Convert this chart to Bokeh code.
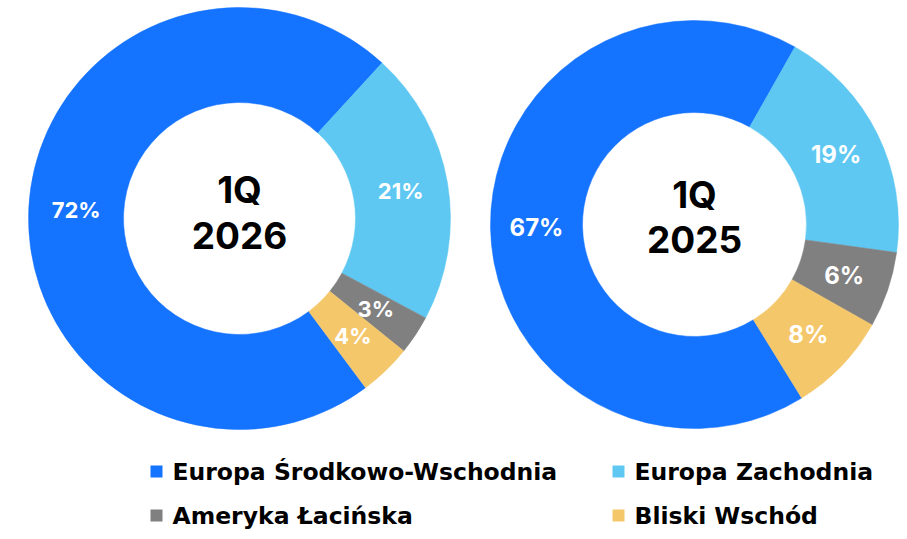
import math
from bokeh.plotting import figure
from bokeh.models import Range1d, ColumnDataSource
from bokeh.core.properties import value
from bokeh.embed import file_html
from bokeh.resources import INLINE

# ---- data ----
categories = ["Europa Środkowo-Wschodnia", "Europa Zachodnia", "Ameryka Łacińska", "Bliski Wschód"]
colors = ["#1473FF", "#5EC8F2", "#808080", "#F5C76B"]
share_2026 = [72, 21, 3, 4]
share_2025 = [67, 19, 6, 8]
titles = [("1Q", "2026"), ("1Q", "2025")]

# ---- layout (pixel coords from top-left) ----
W, H = 899, 531
FONT = "Inter"
LEG_FONT = "DejaVu Sans"

def X(x):
    return x

def Y(y):
    return H - y

p = figure(width=W, height=H, output_backend="svg", toolbar_location=None,
           x_range=Range1d(0, W), y_range=Range1d(0, H), min_border=0)
p.axis.visible = False
p.grid.visible = False
p.outline_line_color = None
p.background_fill_color = "white"
p.border_fill_color = "white"

donuts = [
    dict(vals=share_2026, cx=239, cy=218, r_out=211, r_in=116, start=306.7, lab=22, title=titles[0], ty=(189, 235)),
    dict(vals=share_2025, cx=694, cy=224, r_out=204, r_in=112, start=301.7, lab=24, title=titles[1], ty=(194, 239)),
]

for d in donuts:
    total = sum(d["vals"])
    starts, ends, lx, ly, labels = [], [], [], [], []
    a = math.radians(d["start"])
    rm = (d["r_out"] + d["r_in"]) / 2
    for v in d["vals"]:
        span = 2 * math.pi * v / total
        starts.append(a)
        ends.append(a - span)
        mid = a - span / 2
        lx.append(X(d["cx"]) + rm * math.cos(mid))
        ly.append(Y(d["cy"]) + rm * math.sin(mid))
        labels.append(f"{v}%")
        a -= span
    src = ColumnDataSource(dict(start=starts, end=ends, color=colors, lx=lx, ly=ly, label=labels))
    p.annular_wedge(x=X(d["cx"]), y=Y(d["cy"]), inner_radius=d["r_in"], outer_radius=d["r_out"],
                    start_angle="start", end_angle="end", direction="clock",
                    fill_color="color", line_color="color", line_width=0.5, source=src)
    p.text(x="lx", y="ly", text="label", source=src, text_color="white",
           text_font=value(FONT), text_font_style="bold", text_font_size=f"{d['lab']}px",
           text_align="center", text_baseline="middle")
    p.text(x=[X(d["cx"])] * 2, y=[Y(d["ty"][0]), Y(d["ty"][1])], text=list(d["title"]),
           text_color="black", text_font=value(FONT), text_font_style="bold",
           text_font_size="37px", text_align="center", text_baseline="middle")

# ---- legend ----
leg_x = [150, 612, 150, 612]
leg_y = [471, 471, 515, 515]
sq = 12
p.rect(x=[X(x) + sq / 2 for x in leg_x], y=[Y(y) for y in leg_y], width=sq, height=sq,
       fill_color=colors, line_color=None)
p.text(x=[X(x) + 22 for x in leg_x], y=[Y(y) for y in leg_y], text=categories,
       text_color="black", text_font=value(LEG_FONT), text_font_style="bold",
       text_font_size="23.5px", text_align="left", text_baseline="middle")

open("out.html", "w").write(file_html(p, INLINE))
